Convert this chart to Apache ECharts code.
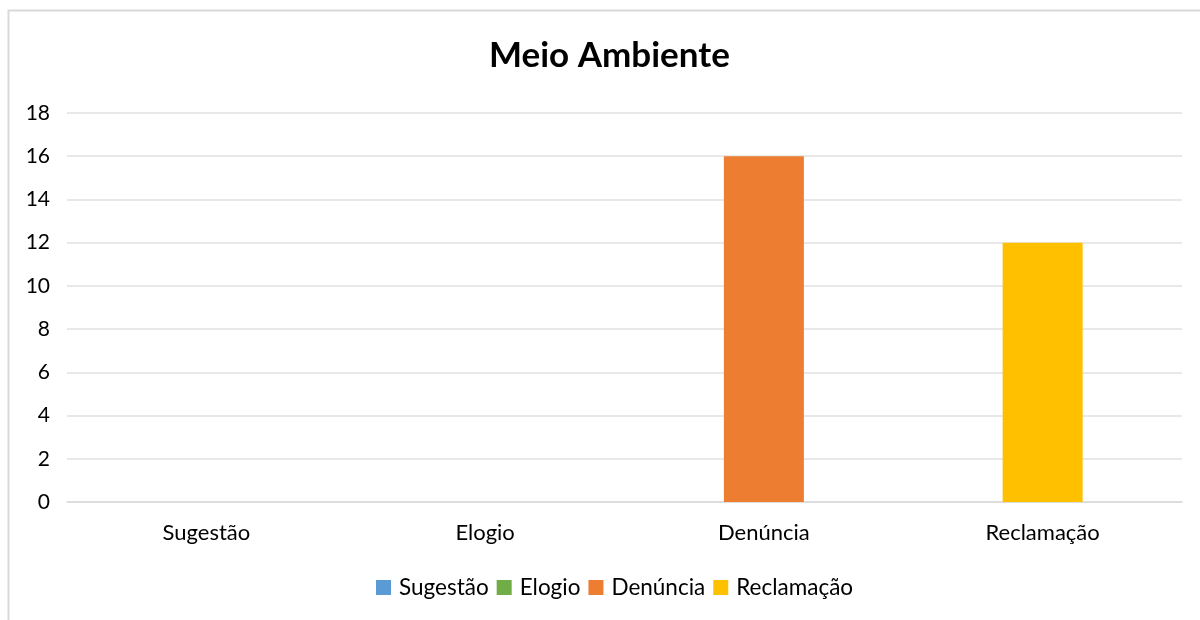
<!DOCTYPE html>
<html>
<head>
<meta charset="utf-8">
<script src="https://cdn.jsdelivr.net/npm/echarts@6/dist/echarts.min.js"></script>
<style>html,body{margin:0;padding:0;background:#fff;}#c{width:1200px;height:620px;}</style>
</head>
<body>
<div id="c"></div>
<script>
const categories = ['Sugestão', 'Elogio', 'Denúncia', 'Reclamação'];
const values = [0, 0, 16, 12];
const colors = ['#5B9BD5', '#70AD47', '#ED7D31', '#FFC000'];
const yTicks = { min: 0, max: 18, interval: 2 };

const chart = echarts.init(document.getElementById('c'));
const font = 'Lato, "Open Sans", sans-serif';
chart.setOption({
  animation: false,
  graphic: [{
    type: 'rect', shape: { x: 8.5, y: 10.5, width: 1300, height: 700 },
    style: { fill: 'none', stroke: '#d9d9d9', lineWidth: 2 }, silent: true, z: -10
  }],
  title: {
    text: 'Meio Ambiente', left: 484, top: 33,
    textStyle: { fontFamily: font, fontWeight: 'bold', fontSize: 35, color: '#000' }
  },
  legend: {
    bottom: 16, left: 371, icon: 'rect', itemWidth: 15, itemHeight: 15, itemGap: 8,
    textStyle: { fontFamily: font, fontSize: 22.5, color: '#000', padding: [0, 0, 0, 3] },
    data: categories
  },
  grid: { left: 67, right: 18, top: 113, bottom: 118 },
  xAxis: {
    type: 'category', data: categories,
    axisLine: { lineStyle: { color: '#d9d9d9', width: 1.5 } },
    axisTick: { show: false },
    axisLabel: { fontFamily: font, fontSize: 22, color: '#000', margin: 20 }
  },
  yAxis: {
    type: 'value', min: yTicks.min, max: yTicks.max, interval: yTicks.interval,
    axisLine: { show: false }, axisTick: { show: false },
    splitLine: { lineStyle: { color: '#e0e0e0', width: 1.5 } },
    axisLabel: { fontFamily: font, fontSize: 21, color: '#000', margin: 17 }
  },
  series: categories.map((name, i) => ({
    name: name, type: 'bar', stack: 'all', barWidth: 80,
    itemStyle: { color: colors[i] },
    data: categories.map((c, j) => j === i ? values[i] : '-')
  }))
});
</script>
</body>
</html>
